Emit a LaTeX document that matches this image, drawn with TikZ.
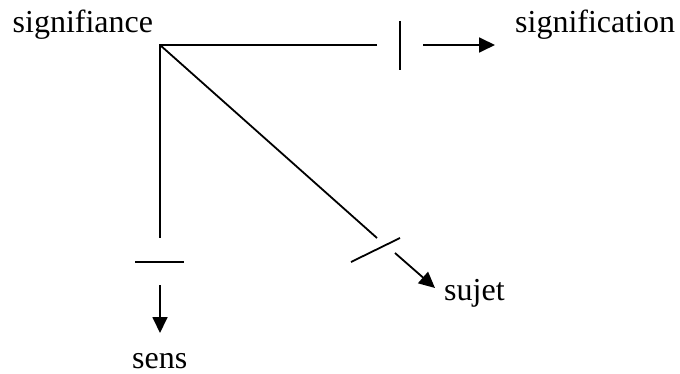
\documentclass[tikz,border=0pt]{standalone}
\usepackage{fontspec}
\setmainfont{Liberation Serif}
\usetikzlibrary{arrows.meta}
\begin{document}
\begin{tikzpicture}[x=1pt,y=-1pt,
  ln/.style={line width=1.8pt},
  arr/.style={line width=1.8pt,-{Triangle[length=16pt,width=15pt]}},
  lbl/.style={inner sep=0pt,anchor=base west,font=\fontsize{32}{38}\selectfont}]
\useasboundingbox (0,0) rectangle (680,374);
\node[lbl] (sig) at (12.5,33) {signifiance};
\node[lbl] (sign) at (515,33) {signification};
\node[lbl] (suj) at (444,300.5) {sujet};
\node[lbl] (sens) at (132,368) {sens};
\coordinate (O) at (160,45);
\coordinate (H1) at (377,45);
\coordinate (Hb1) at (400,21);
\coordinate (Hb2) at (400,70);
\coordinate (Ha1) at (423,45);
\coordinate (Ha2) at (495,45);
\coordinate (V1) at (160,238);
\coordinate (Vb1) at (135,262);
\coordinate (Vb2) at (184,262);
\coordinate (Va1) at (160,285);
\coordinate (Va2) at (160,333);
\coordinate (D1) at (377,238);
\coordinate (Db1) at (351,262);
\coordinate (Db2) at (400,238);
\coordinate (Da1) at (395,253);
\coordinate (Da2) at (435,288);
\draw[ln,line join=miter] (H1) -- (O) -- (V1);
\draw[ln] (O) -- (D1);
\draw[ln] (Hb1) -- (Hb2);
\draw[ln] (Vb1) -- (Vb2);
\draw[ln] (Db1) -- (Db2);
\draw[arr] (Ha1) -- (Ha2);
\draw[arr] (Va1) -- (Va2);
\draw[arr] (Da1) -- (Da2);
\end{tikzpicture}
\end{document}
